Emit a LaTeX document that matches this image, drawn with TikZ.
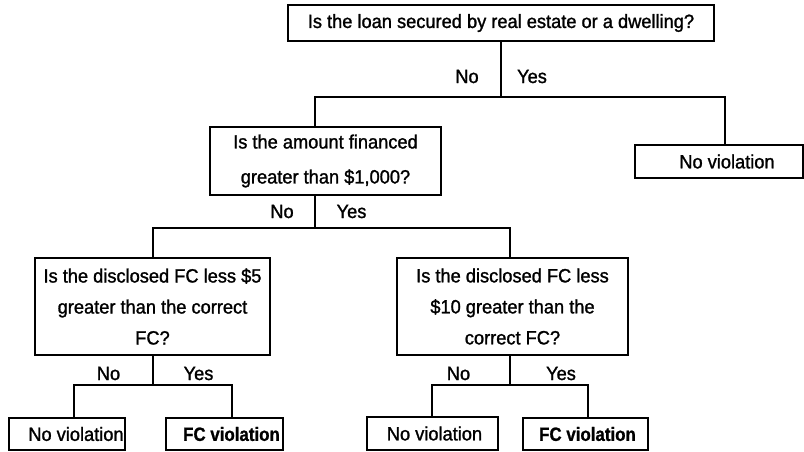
\documentclass[tikz,border=0pt]{standalone}
\usepackage{fontspec}
\setmainfont{Liberation Sans}[FakeBold=1.3, FakeStretch=0.95]
\newfontfamily\heavycond{Liberation Sans Bold}[FakeStretch=0.88, FakeBold=0.8]
\begin{document}
\begin{tikzpicture}[x=1pt,y=-1pt,
  box/.style={draw, line width=1.2pt, inner sep=0pt, align=center,
    font=\fontsize{19.2}{31}\selectfont},
  leaf/.style={draw, line width=1.2pt, inner sep=0pt, minimum height=32,
    font=\fontsize{19.2}{22}\selectfont},
  conn/.style={line width=2.4pt, line join=miter},
  lbl/.style={inner sep=0pt, font=\fontsize{19.2}{22}\selectfont}]
\useasboundingbox (0,0) rectangle (804,451);

% questions
\node[box, minimum width=426, minimum height=36] (q1) at (501,23)
  {Is the loan secured by real estate or a dwelling?};
\node[box, minimum width=231, minimum height=68,
      font=\fontsize{19.2}{35}\selectfont] (q2) at (325.5,161)
  {Is the amount financed\\greater than \$1,000?};
\node[box, minimum width=235, minimum height=97] (q3) at (152.5,306.5)
  {Is the disclosed FC less \$5\\greater than the correct\\FC?};
\node[box, minimum width=231, minimum height=97] (q4) at (512.5,306.5)
  {Is the disclosed FC less\\\$10 greater than the\\correct FC?};

% outcomes
\node[leaf, minimum width=168, minimum height=33] (nv1) at (719,161.5)
  {\hspace*{16pt}No violation};
\node[leaf, minimum width=116] (nv2) at (67,434)
  {\hspace*{18pt}No violation};
\node[leaf, minimum width=117] (fc1) at (224.5,434)
  {\hspace*{14pt}{\heavycond FC violation}};
\node[leaf, minimum width=131, minimum height=33] (nv3) at (432.5,433.5)
  {\hspace*{4pt}No violation};
\node[leaf, minimum width=125] (fc2) at (585.5,434)
  {\hspace*{4pt}{\heavycond FC violation}};

% branch bars
\coordinate (j1L) at (315,97);  \coordinate (j1R) at (725,97);
\coordinate (j2L) at (153,228); \coordinate (j2R) at (510,228);
\coordinate (j3L) at (74,385);  \coordinate (j3R) at (232,385);
\coordinate (j4L) at (432,385); \coordinate (j4R) at (588,385);

\draw[conn] (q1.south) -- (q1.south |- j1L);
\draw[conn] (q2.north -| j1L) |- (j1R) -- (nv1.north -| j1R);

\draw[conn] (q2.south -| j1L) -- (j1L |- j2L);
\draw[conn] (q3.north -| j2L) |- (j2R) -- (q4.north -| j2R);

\draw[conn] (q3.south -| j2L) -- (j2L |- j3L);
\draw[conn] (nv2.north -| j3L) |- (j3R) -- (fc1.north -| j3R);

\draw[conn] (q4.south -| j2R) -- (j2R |- j4L);
\draw[conn] (nv3.north -| j4L) |- (j4R) -- (fc2.north -| j4R);

% branch labels
\node[lbl] (n1) at (467,76.5) {No};
\node[lbl] (y1) at (532,76.5) {Yes};
\node[lbl] (n2) at (282,211.5) {No};
\node[lbl] (y2) at (351.5,211.5) {Yes};
\node[lbl] (n3) at (108.5,373.5) {No};
\node[lbl] (y3) at (198.5,373.5) {Yes};
\node[lbl] (n4) at (458.5,373.5) {No};
\node[lbl] (y4) at (561,373.5) {Yes};
\end{tikzpicture}
\end{document}
